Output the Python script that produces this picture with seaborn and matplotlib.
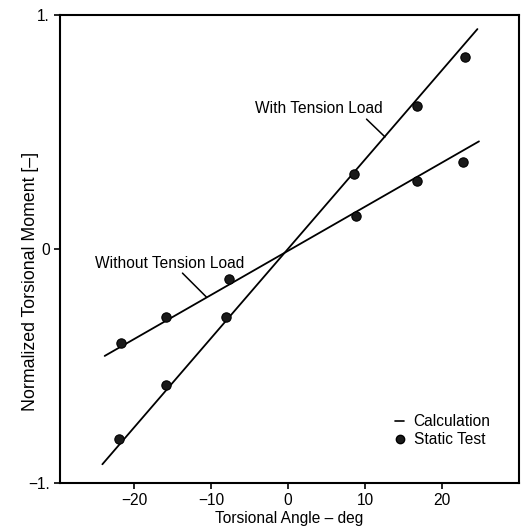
import matplotlib
matplotlib.use("Agg")
import matplotlib.pyplot as plt
import seaborn as sns
import pandas as pd
from matplotlib.lines import Line2D

# Static test data
angle_with = [-22.0, -15.8, -8.0, 8.6, 16.7, 23.0]
moment_with = [-0.81, -0.58, -0.29, 0.32, 0.61, 0.82]
angle_without = [-21.7, -15.8, -7.7, 8.8, 16.7, 22.7]
moment_without = [-0.40, -0.29, -0.13, 0.14, 0.29, 0.37]

# Calculation lines (end points)
calc_angle_with = [-24.1, 24.6]
calc_moment_with = [-0.92, 0.94]
calc_angle_without = [-23.8, 24.8]
calc_moment_without = [-0.457, 0.46]

xticks = [-20, -10, 0, 10, 20]
xticklabels = ["\u221220", "\u221210", "0", "10", "20"]
yticks = [-1, 0, 1]
yticklabels = ["\u22121.", "0", "1."]

sns.set_style("ticks")
plt.rcParams["font.family"] = ["Liberation Sans", "DejaVu Sans"]
plt.rcParams["text.color"] = "black"
plt.rcParams["axes.labelcolor"] = "black"

FS = 11.2

fig = plt.figure(figsize=(5.25, 5.27), dpi=100)
ax = fig.add_axes([0.1143, 0.0835, 0.8743, 0.888])

df_calc_w = pd.DataFrame({"x": calc_angle_with, "y": calc_moment_with})
df_calc_wo = pd.DataFrame({"x": calc_angle_without, "y": calc_moment_without})
sns.lineplot(data=df_calc_w, x="x", y="y", ax=ax, color="black", lw=1.3)
sns.lineplot(data=df_calc_wo, x="x", y="y", ax=ax, color="black", lw=1.3)

df_pts = pd.DataFrame({"x": angle_with + angle_without,
                       "y": moment_with + moment_without})
sns.scatterplot(data=df_pts, x="x", y="y", ax=ax, color="#1a1a1a",
                s=45, edgecolor="black", linewidth=0.8, zorder=3)

ax.set_xlim(-29.6, 30.0)
ax.set_ylim(-1, 1)
ax.set_xticks(xticks)
ax.set_xticklabels(xticklabels)
ax.set_yticks(yticks)
ax.set_yticklabels(yticklabels)
ax.tick_params(direction="out", length=4, width=1.2, labelsize=FS, colors="black")
for sp in ax.spines.values():
    sp.set_visible(True)
    sp.set_linewidth(1.5)
    sp.set_color("black")

ax.set_xlabel("Torsional Angle \u2013 deg", fontsize=FS, labelpad=2)
ax.set_ylabel("Normalized Torsional Moment [\u2013]", fontsize=12.8, labelpad=2)
ax.yaxis.set_label_coords(-0.045, 0.43)

# Annotations
ax.text(12.3, 0.60, "With Tension Load", fontsize=FS, ha="right", va="center")
ax.plot([10.2, 12.6], [0.555, 0.479], color="black", lw=1.1)
ax.text(-25.1, -0.06, "Without Tension Load", fontsize=FS, ha="left", va="center")
ax.plot([-13.7, -10.6], [-0.103, -0.205], color="black", lw=1.1)

handles = [Line2D([], [], color="black", lw=1.2),
           Line2D([], [], marker="o", ls="none", color="#1a1a1a",
                  markeredgecolor="black", markersize=6)]
ax.legend(handles, ["Calculation", "Static Test"], loc="upper left",
          bbox_to_anchor=(0.730, 0.147), frameon=False, fontsize=FS,
          handlelength=0.6, handletextpad=0.6, labelspacing=0.2,
          borderpad=0, borderaxespad=0)

fig.savefig("out.png", dpi=100)
